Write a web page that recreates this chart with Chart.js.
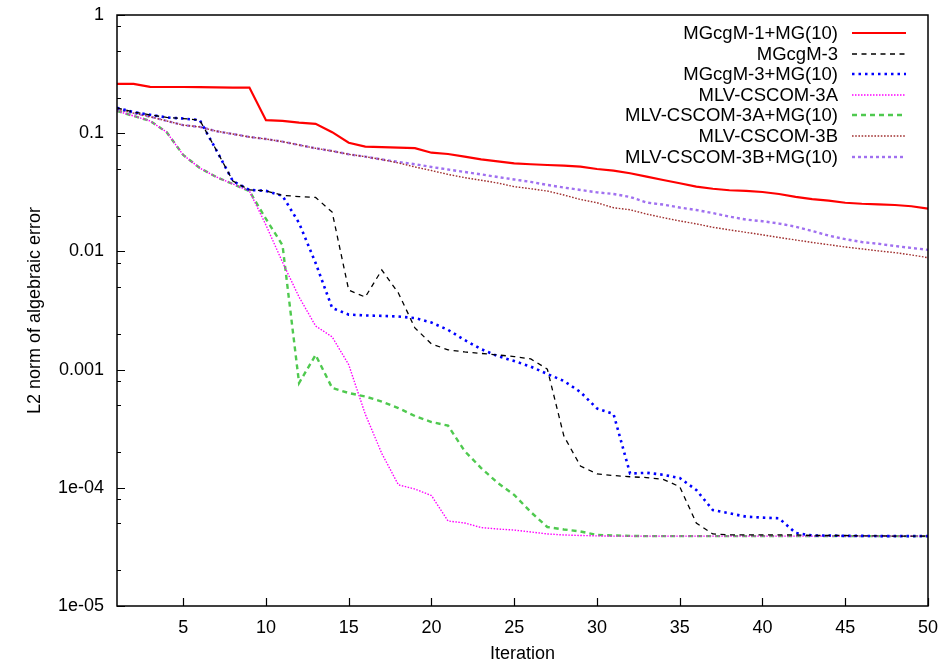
<!DOCTYPE html>
<html>
<head>
<meta charset="utf-8">
<script src="https://cdn.jsdelivr.net/npm/chart.js@4/dist/chart.umd.min.js"></script>
<style>
  body { margin: 0; background: #fff; }
  canvas { display: block; }
</style>
</head>
<body>
<canvas id="errChart" width="946" height="668"></canvas>
<script>
var iterations = [1, 2, 3, 4, 5, 6, 7, 8, 9, 10, 11, 12, 13, 14, 15, 16, 17, 18, 19, 20,
  21, 22, 23, 24, 25, 26, 27, 28, 29, 30, 31, 32, 33, 34, 35, 36, 37, 38, 39, 40,
  41, 42, 43, 44, 45, 46, 47, 48, 49, 50];

var mgcgm1mg = [0.261, 0.261, 0.247, 0.246, 0.246, 0.245, 0.244, 0.243, 0.243, 0.129,
  0.127, 0.123, 0.120, 0.102, 0.083, 0.0769, 0.0763, 0.0754, 0.0748, 0.0684,
  0.0667, 0.0633, 0.0601, 0.0578, 0.0556, 0.0546, 0.0538, 0.0531, 0.0521, 0.0498,
  0.0482, 0.0458, 0.0429, 0.0402, 0.0377, 0.0353, 0.0339, 0.0329, 0.0325, 0.0318,
  0.0306, 0.0289, 0.0277, 0.0269, 0.0258, 0.0253, 0.0250, 0.0247, 0.0241, 0.0230];

var mgcgm3 = [0.164, 0.151, 0.143, 0.136, 0.133, 0.129, 0.072, 0.0394, 0.0331, 0.0325,
  0.0298, 0.0291, 0.0286, 0.0215, 0.00471, 0.00411, 0.00696, 0.00445, 0.00225, 0.00165,
  0.00147, 0.00141, 0.00137, 0.00133, 0.00129, 0.00123, 0.00101, 0.000274, 0.000153, 0.000131,
  0.000127, 0.000124, 0.000122, 0.000118, 0.000102, 5.04e-5, 4.07e-5, 4.0e-5, 4.0e-5, 4.0e-5,
  4.0e-5, 4.0e-5, 3.95e-5, 3.95e-5, 3.95e-5, 3.92e-5, 3.92e-5, 3.9e-5, 3.9e-5, 3.9e-5];

var mgcgm3mg = [0.164, 0.151, 0.143, 0.136, 0.133, 0.129, 0.072, 0.0394, 0.0331, 0.0325,
  0.0295, 0.0174, 0.00797, 0.00332, 0.00292, 0.00287, 0.00285, 0.00281, 0.00273, 0.00250,
  0.00217, 0.00178, 0.00149, 0.00130, 0.00118, 0.00106, 0.000918, 0.000801, 0.000646, 0.000469,
  0.000421, 0.000132, 0.000134, 0.000129, 0.000121, 9.58e-5, 6.48e-5, 6.08e-5, 5.70e-5, 5.6e-5,
  5.52e-5, 4.15e-5, 3.95e-5, 3.95e-5, 3.92e-5, 3.92e-5, 3.9e-5, 3.9e-5, 3.9e-5, 3.9e-5];

var cscom3a = [0.154, 0.140, 0.127, 0.102, 0.0654, 0.0508, 0.0426, 0.0372, 0.0324, 0.0167,
  0.0081, 0.00411, 0.00234, 0.00189, 0.00110, 0.00042, 0.000195, 0.000106, 9.76e-5, 8.6e-5,
  5.24e-5, 5.04e-5, 4.61e-5, 4.48e-5, 4.39e-5, 4.23e-5, 4.07e-5, 3.99e-5, 3.95e-5, 3.92e-5,
  3.9e-5, 3.9e-5, 3.9e-5, 3.9e-5, 3.9e-5, 3.9e-5, 3.9e-5, 3.9e-5, 3.9e-5, 3.9e-5,
  3.9e-5, 3.9e-5, 3.9e-5, 3.9e-5, 3.9e-5, 3.9e-5, 3.9e-5, 3.9e-5, 3.9e-5, 3.9e-5];

var cscom3amg = [0.154, 0.140, 0.127, 0.102, 0.0654, 0.0508, 0.0426, 0.0372, 0.0324, 0.0188,
  0.0113, 0.00077, 0.00133, 0.000699, 0.000634, 0.000592, 0.000537, 0.000473, 0.000405, 0.000360,
  0.000336, 0.000205, 0.000147, 0.000110, 8.7e-5, 6.24e-5, 4.66e-5, 4.44e-5, 4.27e-5, 3.99e-5,
  3.95e-5, 3.92e-5, 3.9e-5, 3.9e-5, 3.9e-5, 3.9e-5, 3.9e-5, 3.9e-5, 3.9e-5, 3.9e-5,
  3.9e-5, 3.9e-5, 3.9e-5, 3.9e-5, 3.9e-5, 3.9e-5, 3.9e-5, 3.9e-5, 3.9e-5, 3.9e-5];

var cscom3b = [0.160, 0.148, 0.138, 0.127, 0.117, 0.113, 0.104, 0.0985, 0.0929, 0.0893,
  0.0848, 0.0795, 0.0745, 0.0707, 0.0663, 0.0633, 0.0599, 0.0560, 0.0518, 0.0483,
  0.0448, 0.0421, 0.0400, 0.0379, 0.0353, 0.0339, 0.0324, 0.0300, 0.0275, 0.0258,
  0.0234, 0.0225, 0.0207, 0.0193, 0.0181, 0.0171, 0.0160, 0.0152, 0.0145, 0.0138,
  0.0131, 0.0125, 0.0119, 0.0114, 0.0109, 0.0105, 0.0101, 0.00977, 0.00933, 0.00885];

var cscom3bmg = [0.160, 0.148, 0.138, 0.127, 0.117, 0.113, 0.104, 0.0985, 0.0929, 0.0893,
  0.0848, 0.0795, 0.0745, 0.0707, 0.0663, 0.0633, 0.0599, 0.0571, 0.0546, 0.0518,
  0.0493, 0.0470, 0.0448, 0.0426, 0.0406, 0.0387, 0.0365, 0.0347, 0.0331, 0.0316,
  0.0306, 0.0289, 0.0259, 0.0249, 0.0235, 0.0224, 0.0211, 0.0197, 0.0186, 0.0180,
  0.0172, 0.0162, 0.0149, 0.0136, 0.0127, 0.0120, 0.0116, 0.0111, 0.0107, 0.0103];

var xTickValues = [5, 10, 15, 20, 25, 30, 35, 40, 45, 50];
var yTickValues = [1, 0.1, 0.01, 0.001, 0.0001, 0.00001];
var yTickLabels = ['1', '0.1', '0.01', '0.001', '1e-04', '1e-05'];
var yMinorSteps = [2, 5, 8];

var fontFamily = "'Liberation Sans', Arial, sans-serif";

function series(label, data, color, width, dash) {
  return {
    label: label,
    data: data,
    borderColor: color,
    backgroundColor: color,
    borderWidth: width,
    borderDash: dash,
    fill: false,
    pointRadius: 0,
    tension: 0
  };
}

// gnuplot style frame, inward ticks and right-aligned key
var gnuplotFrame = {
  id: 'gnuplotFrame',
  afterDraw: function (chart) {
    var ctx = chart.ctx;
    var a = chart.chartArea;
    var xs = chart.scales.x;
    var ys = chart.scales.y;
    ctx.save();
    ctx.strokeStyle = '#000';
    ctx.lineWidth = 1.5;
    ctx.setLineDash([]);
    ctx.strokeRect(a.left, a.top, a.right - a.left, a.bottom - a.top);

    ctx.lineWidth = 1.2;
    ctx.beginPath();
    xTickValues.forEach(function (v) {
      var px = Math.round(xs.getPixelForValue(v)) + 0.5;
      ctx.moveTo(px, a.bottom);
      ctx.lineTo(px, a.bottom - 8);
    });
    yTickValues.forEach(function (v) {
      var py = Math.round(ys.getPixelForValue(v)) + 0.5;
      ctx.moveTo(a.left, py);
      ctx.lineTo(a.left + 8, py);
      if (v < 1) {
        yMinorSteps.forEach(function (m) {
          var pm = Math.round(ys.getPixelForValue(v * m)) + 0.5;
          ctx.moveTo(a.left, pm);
          ctx.lineTo(a.left + 4, pm);
        });
      }
    });
    ctx.stroke();

    // key
    ctx.font = '18.5px ' + fontFamily;
    ctx.textAlign = 'right';
    ctx.textBaseline = 'middle';
    chart.data.datasets.forEach(function (ds, i) {
      var y = 33 + i * 20.6;
      ctx.fillStyle = '#000';
      ctx.fillText(ds.label, 838, y + 1);
      ctx.strokeStyle = ds.borderColor;
      ctx.lineWidth = ds.borderWidth;
      ctx.setLineDash(ds.borderDash);
      ctx.beginPath();
      ctx.moveTo(852, Math.round(y));
      ctx.lineTo(906, Math.round(y));
      ctx.stroke();
    });
    ctx.restore();
  }
};

var ctx = document.getElementById('errChart').getContext('2d');

var errChart = new Chart(ctx, {
  type: 'line',
  data: {
    labels: iterations,
    datasets: [
      series('MGcgM-1+MG(10)', mgcgm1mg, '#ff0000', 2.2, []),
      series('MGcgM-3', mgcgm3, '#000000', 1.3, [5, 4.5]),
      series('MGcgM-3+MG(10)', mgcgm3mg, '#0000ff', 2.6, [2.5, 4]),
      series('MLV-CSCOM-3A', cscom3a, '#ff00ff', 1.4, [1.5, 1.5]),
      series('MLV-CSCOM-3A+MG(10)', cscom3amg, '#4fc94f', 2.4, [5, 4]),
      series('MLV-CSCOM-3B', cscom3b, '#a0302f', 1.4, [1.6, 1.6]),
      series('MLV-CSCOM-3B+MG(10)', cscom3bmg, '#a070f0', 2.4, [3, 3])
    ]
  },
  options: {
    responsive: false,
    animation: false,
    layout: { padding: { left: 20, top: 15, right: 18, bottom: 0 } },
    plugins: {
      legend: { display: false },
      tooltip: { enabled: false }
    },
    scales: {
      x: {
        type: 'linear',
        min: 1,
        max: 50,
        grid: { display: false, drawTicks: false },
        border: { display: false },
        ticks: {
          color: '#000',
          font: { family: fontFamily, size: 18 },
          padding: 11,
          autoSkip: false,
          maxRotation: 0
        },
        afterBuildTicks: function (scale) {
          scale.ticks = xTickValues.map(function (v) { return { value: v }; });
        },
        afterFit: function (scale) {
          scale.height = 62;
          scale.paddingLeft = 0;
          scale.paddingRight = 0;
        },
        title: {
          display: true,
          text: 'Iteration',
          color: '#000',
          font: { family: fontFamily, size: 18 },
          padding: { top: 0, bottom: 3 }
        }
      },
      y: {
        type: 'logarithmic',
        min: 0.00001,
        max: 1,
        grid: { display: false, drawTicks: false },
        border: { display: false },
        ticks: {
          color: '#000',
          font: { family: fontFamily, size: 18 },
          padding: 13,
          autoSkip: false,
          callback: function (value, index) { return yTickLabels[index]; }
        },
        afterBuildTicks: function (scale) {
          scale.ticks = yTickValues.map(function (v) { return { value: v }; });
        },
        afterFit: function (scale) {
          scale.width = 97;
          scale.paddingTop = 0;
          scale.paddingBottom = 0;
        },
        title: {
          display: true,
          text: 'L2 norm of algebraic error',
          color: '#000',
          font: { family: fontFamily, size: 18 },
          padding: { top: 4, bottom: 4 }
        }
      }
    }
  },
  plugins: [gnuplotFrame]
});
</script>
</body>
</html>
